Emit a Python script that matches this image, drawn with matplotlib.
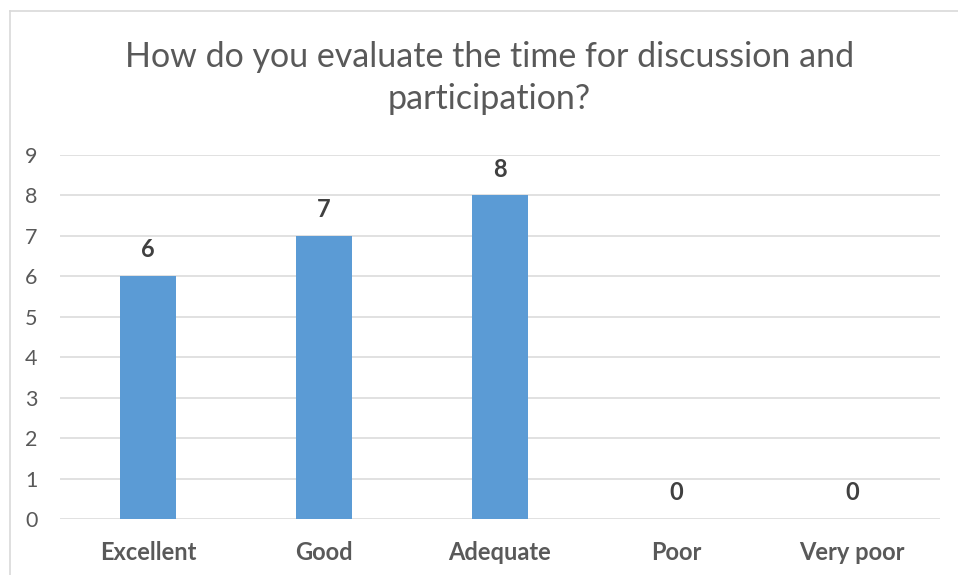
import matplotlib
matplotlib.use("Agg")
import matplotlib.pyplot as plt
from matplotlib.lines import Line2D

categories = ["Excellent", "Good", "Adequate", "Poor", "Very poor"]
counts = [6, 7, 8, 0, 0]
y_ticks = list(range(0, 10))
title = "How do you evaluate the time for discussion and\nparticipation?"

plt.rcParams["font.family"] = ["Lato", "DejaVu Sans"]

fig = plt.figure(figsize=(9.58, 5.75), dpi=100)
ax = fig.add_axes([0.0626, 0.0974, 0.9186, 0.633])

x = range(len(categories))
bars = ax.bar(x, counts, width=0.32, color="#5B9BD5", zorder=3)

ax.set_xlim(-0.5, len(categories) - 0.5)
ax.set_ylim(0, 9)
ax.set_yticks(y_ticks)
ax.set_yticklabels([str(v) for v in y_ticks], fontsize=15.5, color="#595959")
ax.set_xticks(list(x))
ax.set_xticklabels(categories, fontsize=17, fontweight="bold", color="#595959")
ax.tick_params(axis="both", length=0)
ax.tick_params(axis="y", pad=16)
ax.tick_params(axis="x", pad=16)

ax.grid(axis="y", color="#D9D9D9", linewidth=1.1, zorder=0)
for s in ax.spines.values():
    s.set_visible(False)

for rect, v in zip(bars, counts):
    ax.annotate(str(v), (rect.get_x() + rect.get_width() / 2, v),
                xytext=(0, 19), textcoords="offset points",
                ha="center", va="center", fontsize=17, fontweight="bold",
                color="#404040")

fig.text(0.511, 0.864, title, ha="center", va="center", fontsize=24.5,
         color="#595959", linespacing=1.4)

# chart frame (top and left edges)
fig.add_artist(Line2D([9.5 / 958, 1], [1 - 10.5 / 575] * 2,
                      transform=fig.transFigure, color="#D9D9D9", linewidth=1.2))
fig.add_artist(Line2D([9.5 / 958] * 2, [0, 1 - 10.5 / 575],
                      transform=fig.transFigure, color="#D9D9D9", linewidth=1.2))

fig.savefig("out.png", dpi=100, facecolor="white")
